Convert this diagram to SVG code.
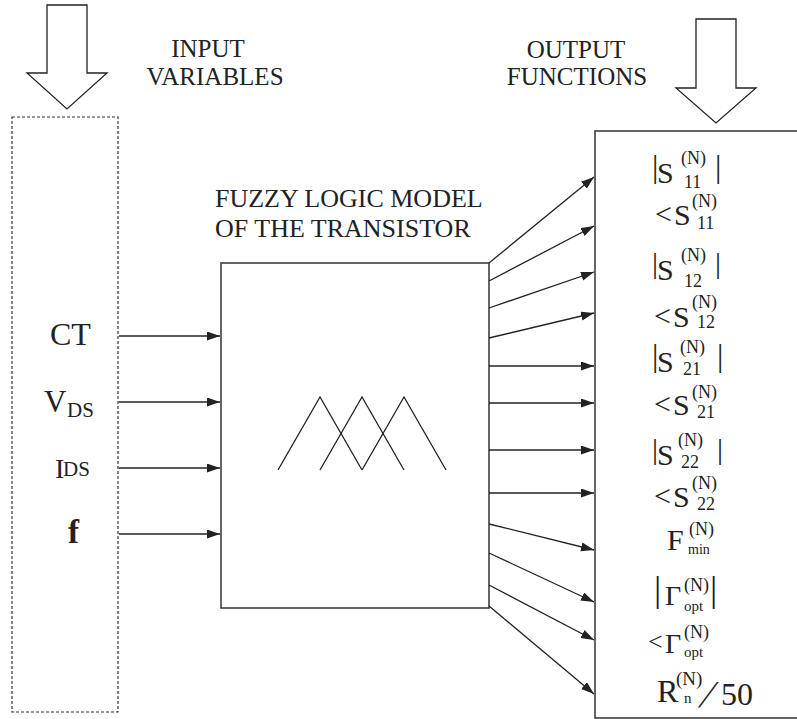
<svg xmlns="http://www.w3.org/2000/svg" width="797" height="719" viewBox="0 0 797 719">
<style>
text{font-family:"Liberation Serif","Times New Roman",serif;fill:#222}
.big{fill:#fff;stroke:#222;stroke-width:1.3}
.ln{stroke:#222;stroke-width:1.3;fill:none}
.t24{font-size:25px}
.m{font-size:30px}
.sup{font-size:18px}
</style>
<defs>
<marker id="ah" markerUnits="userSpaceOnUse" markerWidth="14" markerHeight="10" refX="13" refY="4.5" orient="auto">
<path d="M0,0 L13,4.5 L0,9 z" fill="#222"/>
</marker>
</defs>
<rect width="797" height="719" fill="#fff"/>

<g id="input-arrow"><polygon class="big" points="47,5 87,5 87,73 107,73 67,109 27,73 47,73"/></g>
<g id="input-title">
<text class="t24" x="208" y="57" text-anchor="middle">INPUT</text>
<text class="t24" x="215" y="85" text-anchor="middle">VARIABLES</text>
</g>
<g id="output-arrow"><polygon class="big" points="696,19 736,19 736,88 756,88 716,123 676,88 696,88"/></g>
<g id="output-title">
<text class="t24" x="576" y="58" text-anchor="middle">OUTPUT</text>
<text class="t24" x="577" y="85" text-anchor="middle">FUNCTIONS</text>
</g>

<g id="inputs">
<rect x="12" y="117" width="106" height="595" fill="none" stroke="#333" stroke-width="1.2" stroke-dasharray="3,2"/>
<text x="50" y="345" font-size="32">CT</text>
<text x="44" y="412" font-size="31">V</text><text x="67" y="417" font-size="21">DS</text>
<text x="55" y="478" font-size="28">I</text><text x="63" y="476" font-size="21">DS</text>
<text x="68" y="543" font-size="33" font-weight="bold">f</text>
</g>

<g id="model">
<text x="215" y="207" font-size="26">FUZZY LOGIC MODEL</text>
<text x="215" y="237" font-size="26">OF THE TRANSISTOR</text>
<rect x="221" y="263" width="268" height="345" fill="none" stroke="#333" stroke-width="1.5"/>
<polyline class="ln" points="278,470 320,397 362,470"/>
<polyline class="ln" points="320,470 362,397 404,470"/>
<polyline class="ln" points="362,470 404,397 446,470"/>
</g>

<g id="outputs">
<path d="M797,131 H595 V718 H797" fill="none" stroke="#333" stroke-width="1.5"/>
<g id="o1"><text x="652" y="177" font-size="32">|</text><text class="m" x="657" y="183">S</text><text class="sup" x="681" y="164">(N)</text><text class="sup" x="684" y="188">11</text><text x="715" y="177" font-size="32">|</text></g>
<g id="o2"><text class="m" x="655" y="224">&lt;</text><text class="m" x="674" y="225">S</text><text class="sup" x="692" y="207">(N)</text><text class="sup" x="697" y="229">11</text></g>
<g id="o3"><text x="652" y="273" font-size="30">|</text><text class="m" x="657" y="280">S</text><text class="sup" x="681" y="261">(N)</text><text class="sup" x="684" y="287">12</text><text x="715" y="273" font-size="30">|</text></g>
<g id="o4"><text class="m" x="654" y="326">&lt;</text><text class="m" x="673" y="327">S</text><text class="sup" x="692" y="308">(N)</text><text class="sup" x="697" y="328">12</text></g>
<g id="o5"><text x="652" y="366" font-size="32">|</text><text class="m" x="657" y="372">S</text><text class="sup" x="680" y="353">(N)</text><text class="sup" x="683" y="375">21</text><text x="717" y="366" font-size="32">|</text></g>
<g id="o6"><text class="m" x="654" y="414">&lt;</text><text class="m" x="673" y="415">S</text><text class="sup" x="692" y="398">(N)</text><text class="sup" x="697" y="418">21</text></g>
<g id="o7"><text x="652" y="459" font-size="30">|</text><text class="m" x="657" y="465">S</text><text class="sup" x="678" y="446">(N)</text><text class="sup" x="681" y="468">22</text><text x="717" y="459" font-size="30">|</text></g>
<g id="o8"><text class="m" x="654" y="506">&lt;</text><text class="m" x="673" y="507">S</text><text class="sup" x="692" y="489">(N)</text><text class="sup" x="697" y="510">22</text></g>
<g id="o9"><text class="m" x="667" y="550">F</text><text class="sup" x="689" y="535">(N)</text><text x="688" y="554" font-size="14">min</text></g>
<g id="o10"><text x="654" y="601" font-size="36">|</text><text x="665" y="605" font-size="28">Γ</text><text class="sup" x="684" y="591">(N)</text><text x="684" y="611" font-size="15">opt</text><text x="710" y="601" font-size="36">|</text></g>
<g id="o11"><text x="648" y="650" font-size="26">&lt;</text><text x="665" y="653" font-size="28">Γ</text><text class="sup" x="684" y="638">(N)</text><text x="684" y="657" font-size="15">opt</text></g>
<g id="o12"><text x="657" y="702" font-size="32">R</text><text x="676" y="685" font-size="19">(N)</text><text x="684" y="703" font-size="15">n</text><text transform="translate(698,707) skewX(-22)" font-size="38">/</text><text x="721" y="705" font-size="32">50</text></g>
</g>

<g id="connectors" class="ln" marker-end="url(#ah)">
<line x1="119" y1="336" x2="220" y2="336"/>
<line x1="119" y1="402" x2="220" y2="402"/>
<line x1="119" y1="468" x2="220" y2="468"/>
<line x1="119" y1="534" x2="220" y2="534"/>
<line x1="489" y1="263" x2="594" y2="177"/>
<line x1="489" y1="281" x2="594" y2="226"/>
<line x1="489" y1="308" x2="594" y2="272"/>
<line x1="489" y1="338" x2="594" y2="313"/>
<line x1="489" y1="366" x2="594" y2="366"/>
<line x1="489" y1="403" x2="594" y2="403"/>
<line x1="489" y1="450" x2="594" y2="450"/>
<line x1="489" y1="493" x2="594" y2="493"/>
<line x1="489" y1="524" x2="594" y2="550"/>
<line x1="489" y1="553" x2="594" y2="602"/>
<line x1="489" y1="585" x2="594" y2="640"/>
<line x1="489" y1="606" x2="594" y2="694"/>
</g>
</svg>
